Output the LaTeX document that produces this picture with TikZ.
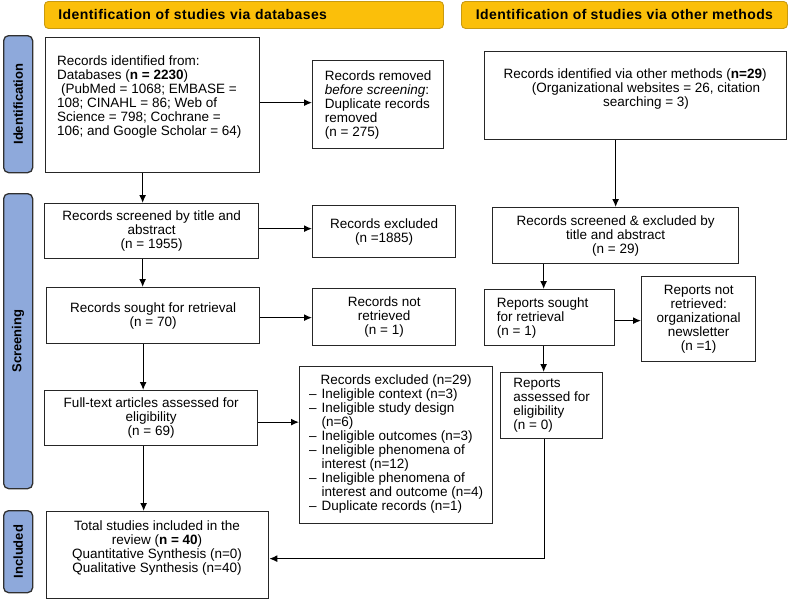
\documentclass[tikz,border=0pt]{standalone}
\usepackage{fontspec}
\usepackage{graphicx}
\setmainfont{Liberation Sans}
\newfontfamily\bannerfont[LetterSpace=3]{Liberation Sans}
\usetikzlibrary{arrows.meta}
\definecolor{bannerfill}{HTML}{FBBF0A}
\definecolor{bannerdraw}{HTML}{C99A10}
\definecolor{sidefill}{HTML}{8EA9DB}
\definecolor{sidedraw}{HTML}{303030}
\definecolor{boxdraw}{HTML}{262626}
\tikzset{
  box/.style={draw=boxdraw, line width=1.3pt, inner sep=0pt, font=\fontsize{13.5}{14}\selectfont, text=black},
  boxtext/.style={inner sep=0pt, font=\fontsize{13.5}{14}\selectfont, text=black},
  arr/.style={-{Latex[length=8pt,width=7pt]}, line width=1.3pt, draw=black},
  banner/.style={draw=bannerdraw, fill=bannerfill, rounded corners=4pt, line width=0.9pt, minimum height=27pt, font=\bannerfont\bfseries\fontsize{14}{15}\selectfont},
  side/.style={draw=sidedraw, fill=sidefill, rounded corners=5pt, line width=1.3pt, minimum width=29pt, inner sep=0pt, font=\bfseries\fontsize{13}{14}\selectfont},
}
\begin{document}
\begin{tikzpicture}[x=1pt,y=-1pt]
\useasboundingbox (0,0) rectangle (791,600);
% banners
\node[banner, text width=371pt, inner xsep=14pt, align=left, anchor=north west] (bl) at (44,1) {Identification of studies via databases};
\node[banner, minimum width=326pt, inner xsep=0pt, anchor=north west] (br) at (461,1) {Identification of studies via other methods};
% side bars
\node[side, minimum height=137pt, anchor=north west] (sid) at (3,35) {\rotatebox{90}{Identification}};
\node[side, minimum height=295pt, anchor=north west] (sscr) at (3,193) {\rotatebox{90}{Screening}};
\node[side, minimum height=82pt, anchor=north west] (sinc) at (3,510) {\rotatebox{90}{Included}};
% left column
\node[box, minimum width=214pt, minimum height=135pt, anchor=north west] (idl) at (45,37) {};
\node[boxtext, align=left, anchor=west] (idlt) at (57,97) {Records identified from:\\Databases (\textbf{n = 2230})\\\hspace*{4pt}(PubMed = 1068; EMBASE =\\108; CINAHL = 86; Web of\\Science = 798; Cochrane =\\106; and Google Scholar = 64)};
\node[box, minimum width=131pt, minimum height=88pt, anchor=north west, align=left] (rem) at (312,60) {Records removed\\\textit{before screening}:\\Duplicate records\\removed\\(n = 275)};
\node[box, minimum width=214pt, minimum height=55pt, anchor=north west, align=center] (scrl) at (44,203) {Records screened by title and\\abstract\\(n = 1955)};
\node[box, minimum width=143pt, minimum height=52pt, anchor=north west, align=center] (exc) at (312,205) {Records excluded\\(n =1885)};
\node[box, minimum width=213pt, minimum height=56pt, anchor=north west, align=center] (sol) at (46,287) {Records sought for retrieval\\(n = 70)};
\node[box, minimum width=143pt, minimum height=57pt, anchor=north west, align=center] (nrl) at (312,288) {Records not\\retrieved\\(n = 1)};
\node[box, minimum width=213pt, minimum height=55pt, anchor=north west, align=center] (ft) at (44,390) {Full-text articles assessed for\\eligibility\\(n = 69)};
\node[box, minimum width=193pt, minimum height=157pt, anchor=north west] (exl) at (299,366) {\begin{tabular}{@{}l@{\hspace{5pt}}l@{}}
\multicolumn{2}{c}{Records excluded (n=29)}\\
\textendash & Ineligible context (n=3)\\
\textendash & Ineligible study design\\
 & (n=6)\\
\textendash & Ineligible outcomes (n=3)\\
\textendash & Ineligible phenomena of\\
 & interest (n=12)\\
\textendash & Ineligible phenomena of\\
 & interest and outcome (n=4)\\
\textendash & Duplicate records (n=1)
\end{tabular}};
\node[box, minimum width=222pt, minimum height=87pt, anchor=north west] (tot) at (46,511) {};
\node[boxtext, align=center] (tott) at (157,548) {Total studies included in the\\review (\textbf{n = 40})\\Quantitative Synthesis (n=0)\\Qualitative Synthesis (n=40)};
% right column
\node[box, minimum width=302pt, minimum height=88pt, anchor=north west] (ido) at (484,51) {};
\node[boxtext, align=center] (idot) at (635,89) {Records identified via other methods (\textbf{n=29})\\\hspace*{22pt}(Organizational websites = 26, citation\\\hspace*{22pt}searching = 3)};
\node[box, minimum width=246pt, minimum height=56pt, anchor=north west, align=center] (scrr) at (492,207) {Records screened \& excluded by\\title and abstract\\(n = 29)};
\node[box, minimum width=130pt, minimum height=56pt, anchor=north west, align=left] (rsr) at (484,289) {Reports sought\hspace*{14pt}\\for retrieval\\(n = 1)};
\node[box, minimum width=114pt, minimum height=85pt, anchor=north west, align=center] (nrr) at (641,276) {Reports not\\retrieved:\\organizational\\newsletter\\(n =1)};
\node[box, minimum width=102pt, minimum height=66pt, anchor=north west, align=left] (asr) at (500,372) {Reports\\assessed for\\eligibility\\(n = 0)};
% connectors
\draw[arr] ([yshift=2.5pt]idl.east) -- ([yshift=2.5pt]idl.east -| rem.west);
\draw[arr] ([xshift=-10pt]idl.south) -- ([xshift=-10pt]idl.south |- scrl.north);
\draw[arr] ([yshift=2.5pt]scrl.east) -- ([yshift=2.5pt]scrl.east -| exc.west);
\draw[arr] ([xshift=-9pt]scrl.south) -- ([xshift=-9pt]scrl.south |- sol.north);
\draw[arr] ([yshift=-2pt]sol.east) -- ([yshift=-2pt]sol.east -| nrl.west);
\draw[arr] ([xshift=-10pt]sol.south) -- ([xshift=-10pt]sol.south |- ft.north);
\draw[arr] ([yshift=-4pt]ft.east) -- ([yshift=-4pt]ft.east -| exl.west);
\draw[arr] ([xshift=-7.5pt]ft.south) -- ([xshift=-7.5pt]ft.south |- tot.north);
\draw[arr] (scrr.north |- ido.south) -- (scrr.north);
\draw[arr] ([xshift=-6pt]rsr.north |- scrr.south) -- ([xshift=-6pt]rsr.north);
\draw[arr] ([yshift=-3pt]rsr.east) -- ([yshift=-3pt]rsr.east -| nrr.west);
\draw[arr] ([xshift=-6pt]rsr.south) -- ([xshift=-6pt]rsr.south |- asr.north);
\draw[arr] ([xshift=-7pt]asr.south) |- ([yshift=-3.5pt]tot.east);
\end{tikzpicture}
\end{document}
